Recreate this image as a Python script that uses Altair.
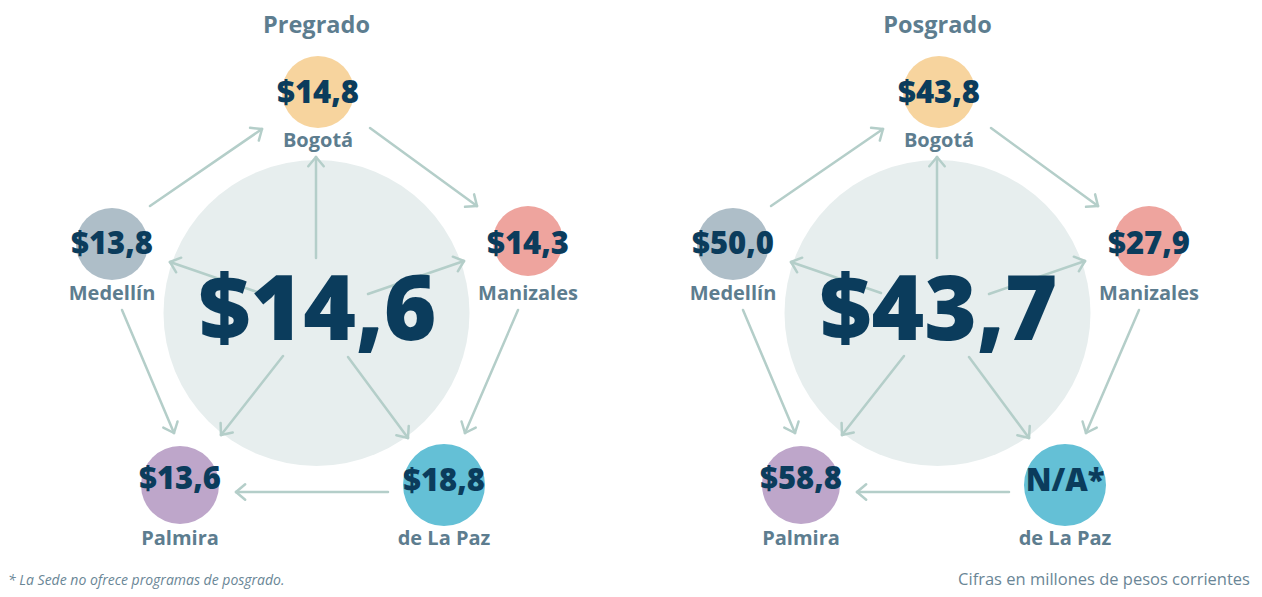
import altair as alt
import pandas as pd
import numpy as np

# ---------------- data ----------------
panels = ["Pregrado", "Posgrado"]
sedes = ["Bogotá", "Medellín", "Manizales", "Palmira", "de La Paz"]
pregrado_values = [14.8, 13.8, 14.3, 13.6, 18.8]
posgrado_values = [43.8, 50.0, 27.9, 58.8, None]   # None -> N/A*
totals = [14.6, 43.7]
footnote = "* La Sede no ofrece programas de posgrado."
source_note = "Cifras en millones de pesos corrientes"

# ---------------- styles ----------------
sede_colors = ["#f7d49e", "#aebec8", "#eea49e", "#bea6ca", "#64c0d6"]
hub_color = "#e7eeee"
arrow_color = "#b4cec9"
value_color = "#0b3c5c"
label_color = "#5d7d8f"
note_color = "#6a8696"
FONT = "Open Sans"

# ---------------- layout (page pixels) ----------------
panel_dx = [0, 621]
title_pos = (316.5, 32.5)
hub_pos = (316.5, 313)
hub_r = 153
node_pos = [(318, 92), (112, 244), (528, 241), (180, 485), (444, 485)]
node_r = [36, 36, 35, 39, 41]
value_dy = [0, -1, 2, -7, -5]
label_y = [147, 300, 300, 545, 545]
outer_arrows = [((150, 206), (262, 129)), ((370, 128), (477, 206)),
                ((518, 310), (465, 433)), ((388, 492), (236, 492)),
                ((122, 310), (174, 433))]
inner_arrows = [((316, 258), (316, 157)), ((260, 293), (170, 262)),
                ((368, 294), (464, 261)), ((283, 356), (221, 435)),
                ((348, 357), (408, 438))]
head_len, head_ang = 12, np.radians(40)


def fmt(v):
    return "N/A*" if v is None else "$" + f"{v:.1f}".replace(".", ",")


panel_values = [pregrado_values, posgrado_values]

hub_rows, node_rows, seg_rows, title_rows, big_rows, val_rows, lab_rows = [], [], [], [], [], [], []
for p, name in enumerate(panels):
    dx = panel_dx[p]
    title_rows.append({"x": title_pos[0] + dx, "y": title_pos[1], "t": name})
    hub_rows.append({"x": hub_pos[0] + dx, "y": hub_pos[1], "s": (2 * hub_r) ** 2})
    fs = 90
    big_rows.append({"x": hub_pos[0] + dx + 1, "y": 308 + 0.057 * fs, "t": fmt(totals[p])})
    for i, s in enumerate(sedes):
        cx, cy = node_pos[i]
        node_rows.append({"x": cx + dx, "y": cy, "s": (2 * node_r[i]) ** 2, "c": sede_colors[i]})
        val_rows.append({"x": cx + dx, "y": cy + value_dy[i] + 2, "t": fmt(panel_values[p][i])})
        lab_rows.append({"x": cx + dx, "y": label_y[i], "t": s})
    for (a, b) in outer_arrows + inner_arrows:
        sx, sy = a[0] + dx, a[1]
        ex, ey = b[0] + dx, b[1]
        seg_rows.append({"x": sx, "y": sy, "x2": ex, "y2": ey})
        d = np.array([ex - sx, ey - sy], dtype=float)
        d /= np.linalg.norm(d)
        for sgn in (1, -1):
            c, s_ = np.cos(sgn * head_ang), np.sin(sgn * head_ang)
            r = np.array([d[0] * c - d[1] * s_, d[0] * s_ + d[1] * c])
            seg_rows.append({"x": ex, "y": ey,
                             "x2": ex - head_len * r[0], "y2": ey - head_len * r[1]})

note_rows = [{"x": 8, "y": 585, "t": footnote}]
src_rows = [{"x": 1250, "y": 585, "t": source_note}]

xs = alt.Scale(domain=[8, 1254], nice=False, zero=False)
ys = alt.Scale(domain=[8, 589], nice=False, zero=False, reverse=True)
X = alt.X("x:Q", scale=xs, axis=None)
Y = alt.Y("y:Q", scale=ys, axis=None)

hub = alt.Chart(pd.DataFrame(hub_rows)).mark_circle(color=hub_color, opacity=1).encode(
    x=X, y=Y, size=alt.Size("s:Q", scale=None))
segs = alt.Chart(pd.DataFrame(seg_rows)).mark_rule(
    color=arrow_color, strokeWidth=2.5, strokeCap="round").encode(
    x=X, y=Y, x2="x2:Q", y2="y2:Q")
big = alt.Chart(pd.DataFrame(big_rows)).mark_text(
    font=FONT, fontSize=90, fontWeight=800, color=value_color, baseline="middle", align="center").encode(
    x=X, y=Y, text="t:N")
nodes = alt.Chart(pd.DataFrame(node_rows)).mark_circle(opacity=1).encode(
    x=X, y=Y, size=alt.Size("s:Q", scale=None), color=alt.Color("c:N", scale=None))
vals = alt.Chart(pd.DataFrame(val_rows)).mark_text(
    font=FONT, fontSize=31, fontWeight=800, color=value_color, baseline="middle", align="center").encode(
    x=X, y=Y, text="t:N")
labs = alt.Chart(pd.DataFrame(lab_rows)).mark_text(
    font=FONT, fontSize=20, fontWeight="bold", color=label_color, baseline="alphabetic", align="center").encode(
    x=X, y=Y, text="t:N")
titles = alt.Chart(pd.DataFrame(title_rows)).mark_text(
    font=FONT, fontSize=23.5, fontWeight="bold", color=label_color, baseline="alphabetic", align="center").encode(
    x=X, y=Y, text="t:N")
note = alt.Chart(pd.DataFrame(note_rows)).mark_text(
    font=FONT, fontSize=14, fontStyle="italic", color=note_color, baseline="alphabetic", align="left").encode(
    x=X, y=Y, text="t:N")
src = alt.Chart(pd.DataFrame(src_rows)).mark_text(
    font=FONT, fontSize=16.5, color=note_color, baseline="alphabetic", align="right").encode(
    x=X, y=Y, text="t:N")

chart = alt.layer(hub, segs, big, nodes, vals, labs, titles, note, src).properties(
    width=1246, height=581, padding=0,
    autosize=alt.AutoSizeParams(type="none"),
    background="white",
).configure_view(stroke=None)

chart.save("out.html", embed_options={"renderer": "svg", "actions": False})
